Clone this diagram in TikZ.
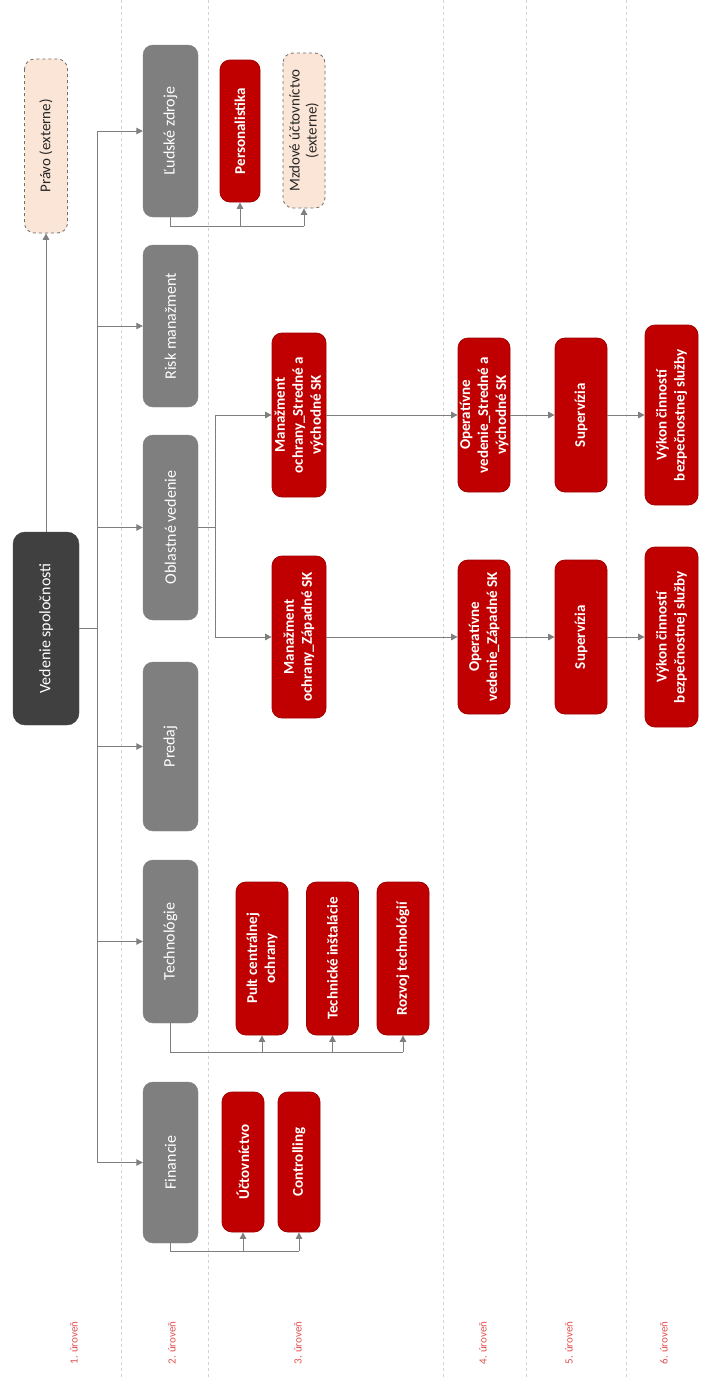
\documentclass[tikz,border=0pt]{standalone}
\usepackage{fontspec}
\setmainfont{Carlito}
\usetikzlibrary{arrows.meta}
\definecolor{grayc}{HTML}{7F7F7F}
\definecolor{rootc}{HTML}{404040}
\definecolor{redc}{HTML}{C00000}
\definecolor{redborder}{HTML}{A00000}
\definecolor{peach}{HTML}{FBE5D6}
\definecolor{dashc}{HTML}{6F6F6F}
\definecolor{darktext}{HTML}{262626}
\definecolor{linec}{HTML}{7F7F7F}
\definecolor{sepc}{HTML}{D3D3D3}
\definecolor{lvlred}{HTML}{E05050}
\tikzset{
  box/.style={rotate=90, rounded corners=10pt, align=center, inner sep=1pt,
    font=\fontsize{16}{19}\selectfont},
  gbox/.style={box, fill=grayc, draw=grayc, text=white},
  rootbox/.style={box, fill=rootc, draw=rootc, text=white, rounded corners=12pt},
  rbox/.style={box, fill=redc, draw=redborder, line width=0.8pt, text=white,
    font=\bfseries\fontsize{15}{18}\selectfont},
  pbox/.style={box, fill=peach, draw=dashc, dashed, line width=0.8pt, text=darktext,
    font=\fontsize{15}{17}\selectfont},
  sz/.style 2 args={minimum width=#1, minimum height=#2},
  arr/.style={draw=linec, line width=1pt, -{Triangle[length=6.5pt,width=6.5pt]}},
  ln/.style={draw=linec, line width=1pt},
  sepline/.style={draw=sepc, line width=0.8pt, dash pattern=on 3pt off 3pt},
  lvl/.style={rotate=90, text=lvlred, font=\fontsize{11}{13}\selectfont},
}
\begin{document}
\begin{tikzpicture}[x=1pt,y=-1pt]
\useasboundingbox (0,0) rectangle (708,1379);
% separators
\foreach \xx in {121,208,443,526,626} {\draw[sepline] (\xx,0) -- (\xx,1379);}
% level labels
\node[lvl] (l1) at (74,1343) {1. úroveň};
\node[lvl] (l2) at (172,1343) {2. úroveň};
\node[lvl] (l3) at (298,1343) {3. úroveň};
\node[lvl] (l4) at (483,1343) {4. úroveň};
\node[lvl] (l5) at (569,1343) {5. úroveň};
\node[lvl] (l6) at (664,1343) {6. úroveň};
% level 1
\node[rootbox, sz={193}{66}] (root) at (46,628.5) {Vedenie spoločnosti};
\node[pbox, sz={174}{43}] (pravo) at (46,146) {Právo (externe)};
% level 2
\node[gbox, sz={172}{55}] (ludske) at (170.5,131) {Ľudské zdroje};
\node[gbox, sz={162}{55}] (risk) at (170.5,326) {Risk manažment};
\node[gbox, sz={185}{55}] (obl) at (170.5,527.5) {Oblastné vedenie};
\node[gbox, sz={169}{55}] (predaj) at (170.5,746.5) {Predaj};
\node[gbox, sz={163}{55}] (tech) at (170.5,941.5) {Technológie};
\node[gbox, sz={161}{55}] (fin) at (170.5,1162.5) {Financie};
% level 3
\node[rbox, sz={142}{40}] (perso) at (240,131) {Personalistika};
\node[pbox, sz={155}{42}] (mzdove) at (304,130.5) {Mzdové účtovníctvo\\(externe)};
\node[rbox, sz={164}{54}] (mS) at (299,415) {Manažment\\ochrany\_Stredné a\\východné SK};
\node[rbox, sz={162}{54}] (mZ) at (299,637) {Manažment\\ochrany\_Západné SK};
\node[rbox, sz={153}{52}] (pult) at (262,958.5) {Pult centrálnej\\ochrany};
\node[rbox, sz={153}{52}] (techi) at (332.5,958.5) {Technické inštalácie};
\node[rbox, sz={153}{52}] (rozvoj) at (403,958.5) {Rozvoj technológií};
\node[rbox, sz={140}{42}] (uct) at (243,1162) {Účtovníctvo};
\node[rbox, sz={140}{42}] (ctrl) at (299,1162) {Controlling};
% level 4-6
\node[rbox, sz={154}{52}] (opS) at (484,415) {Operatívne\\vedenie\_Stredné a\\východné SK};
\node[rbox, sz={154}{52}] (opZ) at (484,637) {Operatívne\\vedenie\_Západné SK};
\node[rbox, sz={154}{52}] (supS) at (581,415) {Supervízia};
\node[rbox, sz={154}{52}] (supZ) at (581,637) {Supervízia};
\node[rbox, sz={180}{53}] (vykS) at (671.5,415) {Výkon činností\\bezpečnostnej služby};
\node[rbox, sz={180}{53}] (vykZ) at (671.5,637) {Výkon činností\\bezpečnostnej služby};
% connectors level 1
\draw[arr] (root.east) -- (pravo.west);
\coordinate (tr) at (97,628.5);
\draw[ln] (root.south) -- (tr);
\draw[ln] (tr |- ludske.north) -- (tr |- fin.north);
\foreach \n in {ludske,risk,obl,predaj,tech,fin} {\draw[arr] (tr |- \n.north) -- (\n.north);}
% Ľudské zdroje children
\draw[ln] (ludske.west) -- ++(0,9) coordinate (lb) -- (lb -| mzdove.west);
\draw[arr] (lb -| perso.west) -- (perso.west);
\draw[arr] (lb -| mzdove.west) -- (mzdove.west);
% Oblastné vedenie children
\draw[ln] (obl.south) -- ++(17,0) coordinate (ob);
\draw[ln] (ob |- mS.north) -- (ob |- mZ.north);
\draw[arr] (ob |- mS.north) -- (mS.north);
\draw[arr] (ob |- mZ.north) -- (mZ.north);
\draw[arr] (mS.south) -- (opS.north);
\draw[arr] (mZ.south) -- (opZ.north);
\draw[arr] (opS.south) -- (supS.north);
\draw[arr] (opZ.south) -- (supZ.north);
\draw[arr] (supS.south) -- (vykS.north);
\draw[arr] (supZ.south) -- (vykZ.north);
% Technológie children
\draw[ln] (tech.west) -- ++(0,29) coordinate (tb) -- (tb -| rozvoj.west);
\draw[arr] (tb -| pult.west) -- (pult.west);
\draw[arr] (tb -| techi.west) -- (techi.west);
\draw[arr] (tb -| rozvoj.west) -- (rozvoj.west);
% Financie children
\draw[ln] (fin.west) -- ++(0,8) coordinate (fb) -- (fb -| ctrl.west);
\draw[arr] (fb -| uct.west) -- (uct.west);
\draw[arr] (fb -| ctrl.west) -- (ctrl.west);
\end{tikzpicture}
\end{document}
